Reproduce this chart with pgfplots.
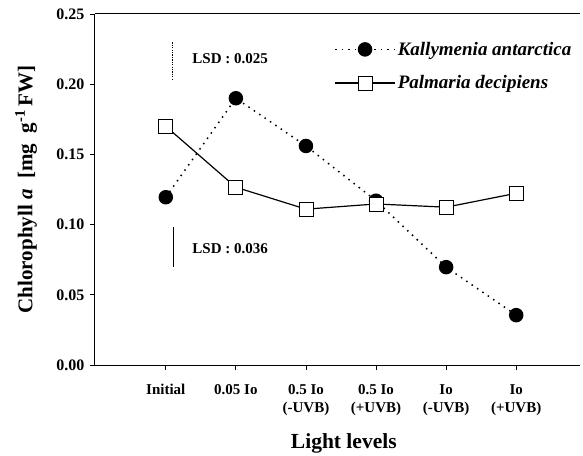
\documentclass[border=0pt]{standalone}
\usepackage{fontspec}
\setmainfont{Liberation Serif}
\usepackage{pgfplots}
\pgfplotsset{compat=1.18}
\begin{document}
\begin{tikzpicture}
\useasboundingbox (-95pt,-90pt) rectangle (488pt,365pt);
\begin{axis}[
  scale only axis, width=485pt, height=351pt,
  at={(0,0)}, anchor=south west,
  xmin=-0.01, xmax=6.91, ymin=0, ymax=0.25,
  axis x line*=box, axis y line*=left,
  axis line style={line width=1pt},
  xtick pos=bottom, ytick pos=left,
  tick align=outside, major tick length=5pt,
  tick style={black, line width=0.8pt},
  xtick={1,2,3,4,5,6},
  xticklabels={Initial, 0.05 Io, {0.5 Io\\(-UVB)}, {0.5 Io\\(+UVB)}, {Io\\(-UVB)}, {Io\\(+UVB)}},
  xticklabel style={font=\fontsize{15}{18}\selectfont\bfseries, align=center, yshift=-11pt},
  ytick={0,0.05,0.10,0.15,0.20,0.25},
  yticklabel style={font=\fontsize{16}{18}\selectfont\bfseries, xshift=-2pt,
    /pgf/number format/.cd, fixed, fixed zerofill, precision=2, assume math mode=true},
  xlabel={Light levels},
  xlabel style={font=\fontsize{21.5}{25}\selectfont\bfseries, at={(axis description cs:0.513,-0.194)}, anchor=north, inner sep=0pt},
  ylabel={Chlorophyll \textit{a}\ \ [mg\ \ g\textsuperscript{-1}\,FW]},
  ylabel style={font=\fontsize{21}{24}\selectfont\bfseries, at={(axis description cs:-0.142,0.5)}, anchor=center, inner sep=0pt},
  legend style={draw=none, fill=none, at={(rel axis cs:0.993,0.932)}, anchor=north east,
    font=\fontsize{19}{22}\selectfont\bfseries\itshape, row sep=15pt, cells={anchor=west}},
  legend image code/.code={\draw[mark repeat=2,mark phase=2,#1] plot coordinates {(0pt,0pt) (30pt,0pt) (60pt,0pt)};},
]
\addplot[black, line width=1.5pt, dash pattern=on 1.5pt off 5pt, mark=*, mark size=6.5pt, mark options={solid}]
  coordinates {(1,0.1195) (2,0.190) (3,0.156) (4,0.117) (5,0.0697) (6,0.0355)};
\addlegendentry{Kallymenia antarctica}
\addplot[black, line width=1.2pt, mark=square*, mark size=7pt, mark options={solid, fill=white, draw=black, line width=0.9pt}]
  coordinates {(1,0.170) (2,0.1266) (3,0.111) (4,0.1147) (5,0.1124) (6,0.1223)};
\addlegendentry{Palmaria decipiens}
\addplot[black, line width=1.4pt, dash pattern=on 1.2pt off 1.2pt, forget plot]
  coordinates {(1.1,0.2297) (1.1,0.204)};
\addplot[black, line width=1.3pt, forget plot]
  coordinates {(1.11,0.098) (1.11,0.0697)};
\node[anchor=west, font=\fontsize{15}{18}\selectfont\bfseries] at (axis cs:1.33,0.218) {LSD : 0.025};
\node[anchor=west, font=\fontsize{15}{18}\selectfont\bfseries] at (axis cs:1.33,0.083) {LSD : 0.036};
\draw[gray!40, line width=0.6pt] (rel axis cs:1,0) -- (rel axis cs:1,1);
\end{axis}
\end{tikzpicture}
\end{document}
